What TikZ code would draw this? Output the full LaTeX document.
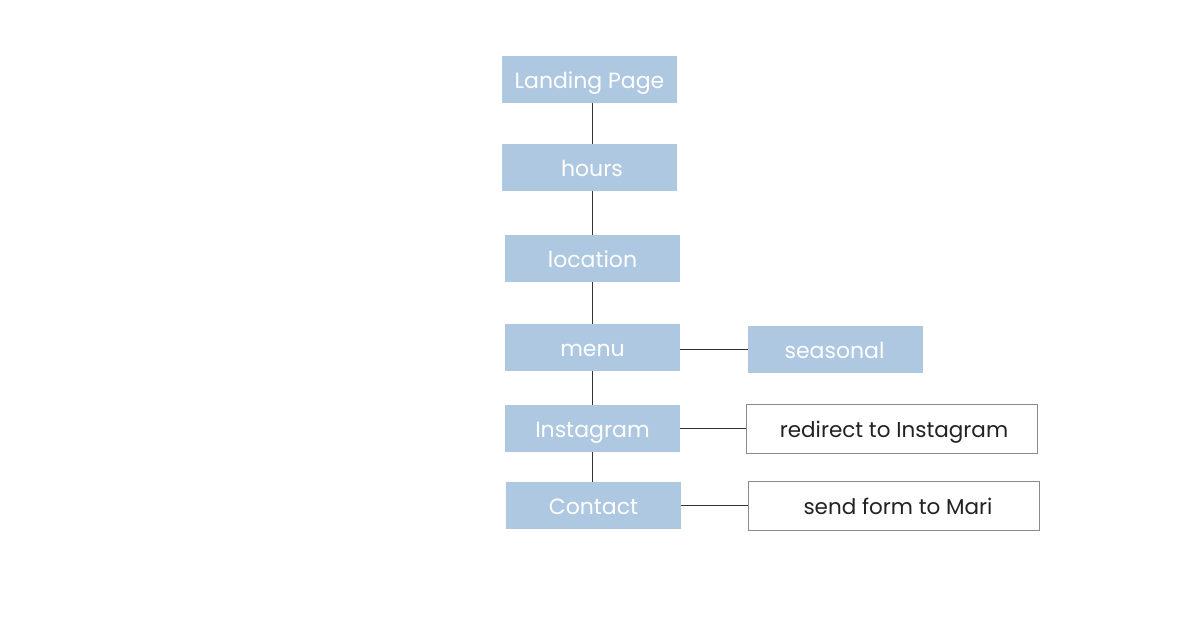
\documentclass[tikz,border=0pt]{standalone}
\usepackage{fontspec}
\setmainfont{Poppins}
\begin{document}
\begin{tikzpicture}[x=1pt,y=-1pt,
  bluebox/.style={fill=boxblue, draw=none, minimum width=175pt, minimum height=47pt, inner sep=0pt, text height=17.5pt, text depth=0pt, text=white, font=\fontsize{22}{26}\selectfont},
  whitebox/.style={fill=white, draw=bordergray, line width=0.8pt, minimum width=291pt, minimum height=49pt, inner sep=0pt, text height=17.5pt, text depth=0pt, text=textdark, font=\fontsize{21.5}{26}\selectfont},
  link/.style={draw=linegray, line width=0.9pt}]
\definecolor{boxblue}{HTML}{ADC8E0}
\definecolor{bordergray}{HTML}{8A8A8A}
\definecolor{textdark}{HTML}{222222}
\definecolor{linegray}{HTML}{333333}
\useasboundingbox[fill=white] (0,0) rectangle (1200,620);
\node[bluebox] (land) at (589.5,79.5) {Landing Page};
\node[bluebox] (hours) at (589.5,167.5) {\hspace{5pt}hours};
\node[bluebox] (loc) at (592.5,258.5) {location};
\node[bluebox] (menu) at (592.5,347.5) {menu};
\node[bluebox] (seas) at (835.5,349.5) {\hspace{-2pt}seasonal};
\node[bluebox] (insta) at (592.5,428.5) {Instagram};
\node[whitebox] (redir) at (891.5,428.5) {\hspace{5pt}redirect to Instagram};
\node[whitebox] (send) at (893.5,505.5) {\hspace{9pt}send form to Mari};
\node[bluebox] (contact) at (593.5,505.5) {Contact};
\draw[link] (land.south -| menu.center) -- (hours.north -| menu.center);
\draw[link] (hours.south -| menu.center) -- (loc.north);
\draw[link] (loc.south) -- (menu.north);
\draw[link] (menu.south) -- (insta.north);
\draw[link] (insta.south) -- (contact.north -| insta.center);
\draw[link] (menu.east |- seas.west) -- (seas.west);
\draw[link] (insta.east) -- (redir.west);
\draw[link] (contact.east) -- (send.west);
\end{tikzpicture}
\end{document}
